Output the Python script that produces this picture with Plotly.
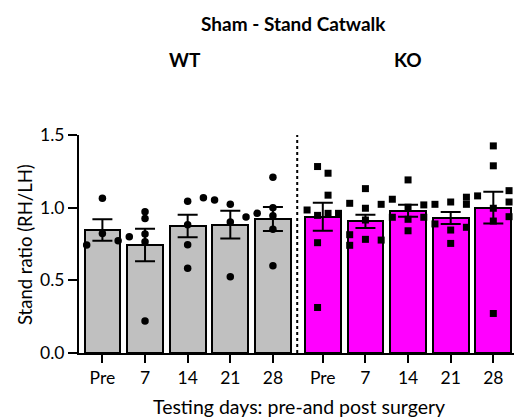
import plotly.graph_objects as go

# ---------------- data ----------------
days = ["Pre", "7", "14", "21", "28"]
groups = ["WT", "KO"]

wt_mean = [0.846, 0.743, 0.874, 0.883, 0.922]
wt_sem = [0.074, 0.112, 0.077, 0.096, 0.083]
ko_mean = [0.938, 0.906, 0.979, 0.929, 1.000]
ko_sem = [0.096, 0.046, 0.041, 0.041, 0.109]

wt_pre = [1.064, 0.823, 0.743, 0.772]
wt_7 = [0.800, 0.972, 0.926, 0.818, 0.765, 0.221]
wt_14 = [1.044, 0.883, 0.745, 0.584, 1.069]
wt_21 = [1.053, 1.023, 0.901, 0.524, 0.936]
wt_28 = [0.961, 1.209, 1.000, 0.945, 0.851, 0.600]

ko_pre = [0.984, 1.283, 0.947, 0.759, 0.313, 1.237, 1.086, 0.961, 0.961]
ko_7 = [1.030, 0.814, 0.741, 1.131, 0.996, 0.915, 0.782, 1.023, 0.777]
ko_14 = [1.058, 0.934, 1.191, 1.003, 0.920, 0.841, 1.019, 0.934]
ko_21 = [1.023, 0.888, 1.039, 0.846, 0.754, 1.072, 1.023, 0.865]
ko_28 = [1.081, 1.425, 1.288, 0.996, 0.908, 0.272, 1.117, 1.039, 0.938]

# scatter column slots (beeswarm-like spread)
wt_slots = [
    [0, 0, -1.5, 1.5],
    [-1.5, 0, 0, 0, 0, 0],
    [0, 0, 0, 0, 1.5],
    [-1.5, 0, 0, 0, 1.5],
    [-1.5, 0, 0, 0, 0, 0],
]
ko_slots = [
    [-1.5, -0.5, -0.5, -0.5, -0.5, 0.5, 0.5, 0.5, 1.5],
    [-1.5, -1.5, -1.5, 0, 0, 0, 0, 1.5, 1.5],
    [-1.5, -1.5, 0, 0, 0, 0, 1.5, 1.5],
    [-1.5, -1.5, 0, 0, 0, 1.5, 1.5, 1.5],
    [-1.5, 0, 0, 0, 0, 0, 1.5, 1.5, 1.5],
]

# ---------------- layout constants ----------------
FONT = "Lato, Carlito, Calibri, sans-serif"
KO_START = 5.17
SLOT = 0.246
wt_x = [i for i in range(len(days))]
ko_x = [KO_START + i for i in range(len(days))]
BAR_W = 0.84

fig = go.Figure()

for xs, means, sems, color in [(wt_x, wt_mean, wt_sem, "#C0C0C0"),
                               (ko_x, ko_mean, ko_sem, "#FF00FF")]:
    fig.add_trace(go.Bar(
        x=xs, y=means, width=BAR_W,
        marker=dict(color=color, line=dict(color="black", width=2)),
        error_y=dict(type="data", array=sems, visible=True,
                     color="black", thickness=2, width=10),
        showlegend=False,
    ))

def pts(xs, series, slots):
    X, Y = [], []
    for xc, vals, sl in zip(xs, series, slots):
        for v, s in zip(vals, sl):
            X.append(xc + s * SLOT)
            Y.append(v)
    return X, Y

X, Y = pts(wt_x, [wt_pre, wt_7, wt_14, wt_21, wt_28], wt_slots)
fig.add_trace(go.Scatter(x=X, y=Y, mode="markers", cliponaxis=False,
                         marker=dict(symbol="circle", size=7.5, color="black"),
                         showlegend=False))
X, Y = pts(ko_x, [ko_pre, ko_7, ko_14, ko_21, ko_28], ko_slots)
fig.add_trace(go.Scatter(x=X, y=Y, mode="markers", cliponaxis=False,
                         marker=dict(symbol="square", size=7, color="black"),
                         showlegend=False))

# divider
div_x = (wt_x[-1] + ko_x[0]) / 2 - 0.015
fig.add_shape(type="line", x0=div_x, x1=div_x, y0=0, y1=1.52, xref="x", yref="y",
              line=dict(color="black", width=2, dash="dot"))

L, R, T, B = 79, 0, 135, 66
W, H = 514, 419
pw, ph = W - L - R, H - T - B

def px(x):
    return (x - L) / pw

def py(y):
    return (H - B - y) / ph

annots = [
    dict(text="<b>Sham - Stand Catwalk</b>", x=px(293), y=py(23), size=19),
    dict(text="<b>WT</b>", x=px(185), y=py(60), size=19),
    dict(text="<b>KO</b>", x=px(408), y=py(60), size=19),
    dict(text="Testing days: pre-and post surgery", x=px(299), y=py(406), size=19.5),
]
for a in annots:
    fig.add_annotation(text=a["text"], x=a["x"], y=a["y"], xref="paper", yref="paper",
                       showarrow=False, xanchor="center", yanchor="middle",
                       font=dict(family=FONT, size=a["size"], color="black"))
fig.add_annotation(text="Stand ratio (RH/LH)", x=px(25), y=py(245), xref="paper", yref="paper",
                   showarrow=False, textangle=-90, xanchor="center", yanchor="middle",
                   font=dict(family=FONT, size=18.5, color="black"))

fig.update_layout(
    width=W, height=H,
    margin=dict(l=L, r=R, t=T, b=B, pad=0),
    paper_bgcolor="white", plot_bgcolor="white",
    font=dict(family=FONT, size=17.5, color="black"),
    bargap=0,
    xaxis=dict(range=[-0.549, 9.655], tickvals=wt_x + ko_x, ticktext=days + days,
               showline=True, linecolor="black", linewidth=2, ticks="outside",
               ticklen=8, tickwidth=2, tickcolor="black", showgrid=False,
               zeroline=False, tickfont=dict(family=FONT, size=17.5)),
    yaxis=dict(range=[0, 1.5], tickvals=[0, 0.5, 1.0, 1.5], tickformat=".1f",
               showline=True, linecolor="black", linewidth=2, ticks="outside",
               ticklen=9, tickwidth=2, tickcolor="black", showgrid=False,
               zeroline=False, tickfont=dict(family=FONT, size=17.5)),
)

fig.write_html("out.html")
